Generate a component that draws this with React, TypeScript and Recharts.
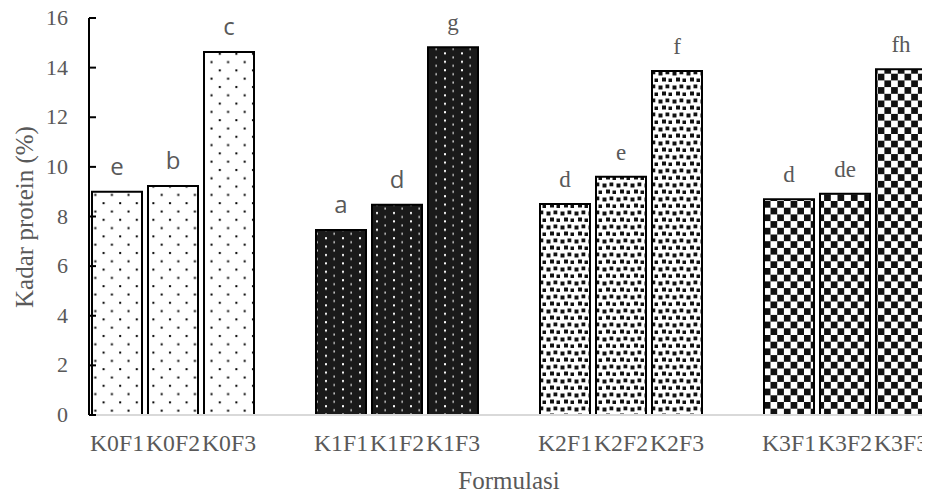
import { BarChart, Bar, XAxis, YAxis, Cell, LabelList } from 'recharts'

// blank entries are the gaps between the K groups
const CATEGORIES = ['K0F1', 'K0F2', 'K0F3', '', 'K1F1', 'K1F2', 'K1F3', '', 'K2F1', 'K2F2', 'K2F3', '', 'K3F1', 'K3F2', 'K3F3']
const PROTEIN = [9.0, 9.23, 14.63, null, 7.46, 8.47, 14.82, null, 8.5, 9.6, 13.86, null, 8.7, 8.92, 13.93]
const LETTERS = ['e', 'b', 'c', '', 'a', 'd', 'g', '', 'd', 'e', 'f', '', 'd', 'de', 'fh']
const Y_TICKS = [0, 2, 4, 6, 8, 10, 12, 14, 16]

const data = CATEGORIES.map((name, i) => ({ name, value: PROTEIN[i], letter: LETTERS[i] }))

const FILLS = ['url(#pK0)', 'url(#pK1)', 'url(#pK2)', 'url(#pK3)']
const SANS_LETTERS = ['K0F1', 'K0F2', 'K0F3', 'K1F1', 'K1F2']
const GRAY = '#595959'
const SERIF = 'Liberation Serif'
const SANS = 'Open Sans'

// label value is the category name, letter looked up from it (LabelList index skips empty bars)
function Letter(props: any) {
  const { x, y, width, value } = props
  const i = CATEGORIES.indexOf(value)
  if (!value || i < 0) return null
  const sans = SANS_LETTERS.includes(value)
  return (
    <text
      x={x + width / 2}
      y={y - 17}
      textAnchor="middle"
      fill={GRAY}
      style={{ fontFamily: sans ? SANS : SERIF, fontSize: sans ? 24 : 23 }}
    >
      {LETTERS[i]}
    </text>
  )
}

function XTick(props: any) {
  const { x, y, payload } = props
  if (!payload.value) return null
  return (
    <text
      x={x}
      y={y + 26}
      textAnchor="middle"
      fill={GRAY}
      textLength={54}
      lengthAdjust="spacingAndGlyphs"
      style={{ fontFamily: SERIF, fontSize: 23 }}
    >
      {payload.value}
    </text>
  )
}

function YTick(props: any) {
  const { x, y, payload } = props
  return (
    <text x={x} y={y + 7} textAnchor="end" fill={GRAY} style={{ fontFamily: SERIF, fontSize: 22 }}>
      {payload.value}
    </text>
  )
}

export default function App() {
  return (
    <div style={{ fontFamily: SERIF, margin: '-8px 0 0 -8px' }}>
      <BarChart width={930} height={494} data={data} margin={{ top: 18, right: 1, bottom: 39, left: 29 }} barSize={50}>
        <defs>
          <pattern id="pK0" width="16.6" height="16.6" patternUnits="userSpaceOnUse">
            <rect width="16.6" height="16.6" fill="#fff" />
            <rect x="3" y="3" width="2" height="2" fill="#000" />
            <rect x="11.3" y="11.3" width="2" height="2" fill="#000" />
          </pattern>
          <pattern id="pK1" width="17" height="8.4" patternUnits="userSpaceOnUse">
            <rect width="17" height="8.4" fill="#1a1a1a" />
            <rect x="2" y="2" width="2" height="2" fill="#fff" />
            <rect x="10.5" y="6" width="1.3" height="2" fill="#eee" />
          </pattern>
          <pattern id="pK2" width="14" height="14" patternUnits="userSpaceOnUse">
            <rect width="14" height="14" fill="#fff" />
            <rect x="0.5" y="1.5" width="4" height="4" fill="#111" />
            <rect x="7.5" y="0.5" width="3.8" height="3.8" fill="#111" />
            <rect x="4" y="7.5" width="4" height="4" fill="#111" />
            <rect x="10.5" y="8.5" width="3.5" height="3.5" fill="#111" />
          </pattern>
          <pattern id="pK3" width="13.4" height="13.4" patternUnits="userSpaceOnUse">
            <rect width="13.4" height="13.4" fill="#fff" />
            <rect x="0" y="0" width="6.7" height="6.7" fill="#111" />
            <rect x="6.7" y="6.7" width="6.7" height="6.7" fill="#111" />
          </pattern>
        </defs>
        <XAxis
          dataKey="name"
          interval={0}
          height={40}
          tickLine={false}
          tickSize={6}
          tickMargin={4}
          axisLine={{ stroke: '#d9d9d9', strokeWidth: 2 }}
          tick={<XTick />}
          label={{
            content: (p: any) => (
              <text x={p.viewBox.x + p.viewBox.width / 2} y={489} textAnchor="middle" fill={GRAY} style={{ fontFamily: SERIF, fontSize: 25 }}>
                Formulasi
              </text>
            ),
          }}
        />
        <YAxis
          type="number"
          domain={[0, 16]}
          ticks={Y_TICKS}
          width={60}
          tickSize={-7}
          tickMargin={28}
          axisLine={{ stroke: '#000', strokeWidth: 2 }}
          tickLine={{ stroke: '#000', strokeWidth: 2 }}
          tick={<YTick />}
          label={{
            content: () => (
              <text x={0} y={0} transform="translate(24,217) rotate(-90)" textAnchor="middle" dominantBaseline="central" fill={GRAY} style={{ fontFamily: SERIF, fontSize: 25 }}>
                Kadar protein (%)
              </text>
            ),
          }}
        />
        <Bar dataKey="value" stroke="#000" strokeWidth={2} isAnimationActive={false}>
          {data.map((d, i) => (
            <Cell key={i} fill={FILLS[Math.floor(i / 4)]} />
          ))}
          <LabelList dataKey="name" content={Letter} />
        </Bar>
      </BarChart>
    </div>
  )
}
